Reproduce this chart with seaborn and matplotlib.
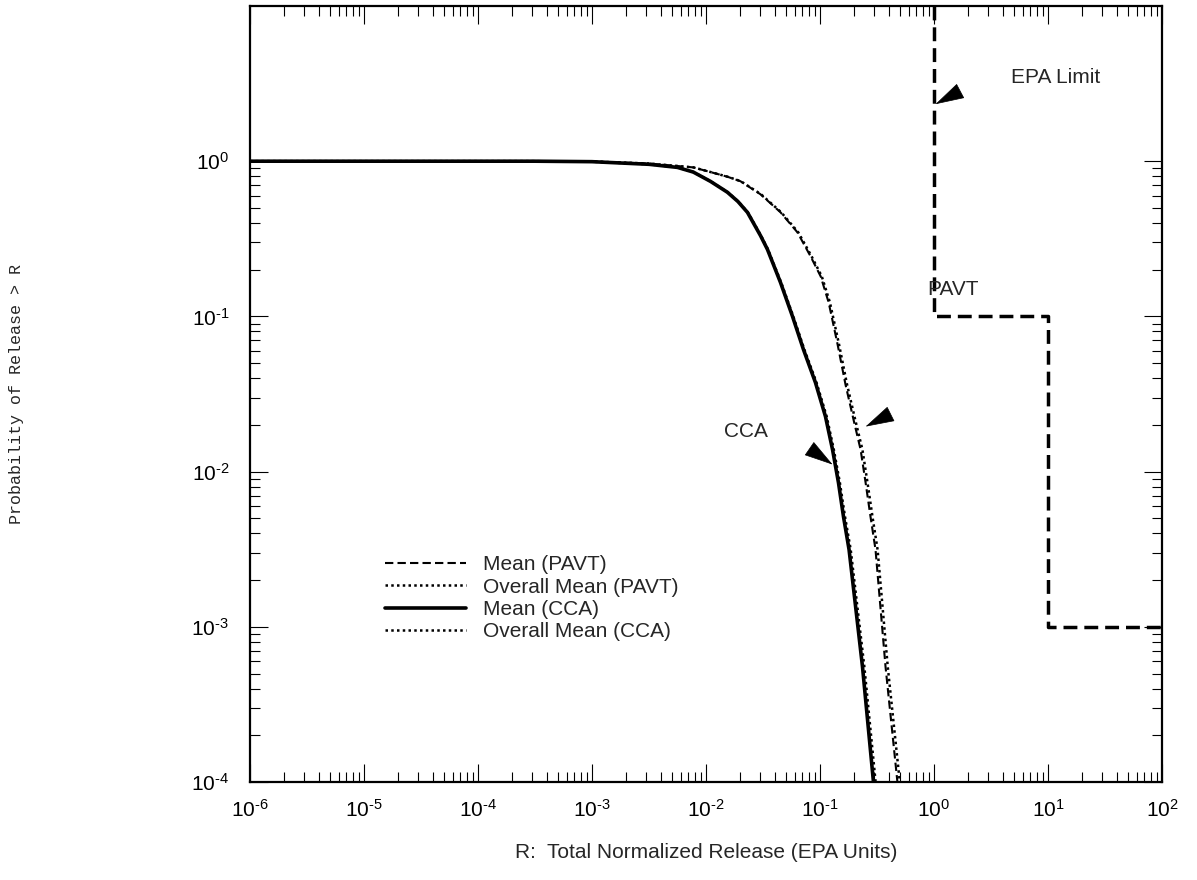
import numpy as np
import pandas as pd
import matplotlib
matplotlib.use('Agg')
import matplotlib.pyplot as plt
import matplotlib.ticker as mticker
import seaborn as sns

# Courbes (probabilite de depasser R)
cca_mean_x = [1e-6, 3.16e-4, 1.0e-3, 3.16e-3, 5.62e-3, 7.74e-3, 0.01096, 0.0154, 0.01905, 0.0231,
              0.0301, 0.0346, 0.0450, 0.0574, 0.0716, 0.0912, 0.1117, 0.1288, 0.1452, 0.1607,
              0.1799, 0.236, 0.295]
cca_mean_y = [1.0, 1.0, 0.993, 0.955, 0.912, 0.851, 0.741, 0.631, 0.550, 0.468,
              0.331, 0.270, 0.1656, 0.100, 0.0612, 0.0375, 0.02265, 0.01387, 0.00849, 0.00513,
              0.00314, 5.52e-4, 9.86e-5]

cca_overall_x = [1e-6, 3.16e-4, 1.0e-3, 3.17e-3, 5.64e-3, 7.78e-3, 0.0110, 0.0155, 0.0192, 0.0233,
                 0.0304, 0.0350, 0.0456, 0.0583, 0.0729, 0.0932, 0.1145, 0.1322, 0.1494, 0.1657,
                 0.1860, 0.2450, 0.3080]
cca_overall_y = cca_mean_y

pavt_mean_x = [1e-6, 3.16e-4, 1.0e-3, 3.16e-3, 7.74e-3, 0.01096, 0.01542, 0.02004, 0.03006, 0.04498,
               0.0634, 0.0826, 0.1014, 0.1191, 0.1426, 0.1675, 0.1968, 0.2270, 0.2512, 0.2773,
               0.3069, 0.3758, 0.4786]
pavt_mean_y = [1.0, 1.0, 0.995, 0.966, 0.912, 0.851, 0.794, 0.743, 0.612, 0.469,
               0.348, 0.244, 0.181, 0.1230, 0.0661, 0.0363, 0.02163, 0.01387, 0.00849, 0.00513,
               0.00314, 5.52e-4, 9.86e-5]

pavt_overall_x = [1e-6, 3.16e-4, 1.0e-3, 3.17e-3, 7.78e-3, 0.0110, 0.0155, 0.0202, 0.0304, 0.0456,
                  0.0645, 0.0843, 0.1037, 0.1222, 0.1468, 0.1728, 0.2035, 0.2355, 0.2610, 0.2885,
                  0.3200, 0.3930, 0.5020]
pavt_overall_y = pavt_mean_y

# Limite EPA (escalier)
epa_x = [1, 1, 10, 10, 100]
epa_y = [10, 0.1, 0.1, 0.001, 0.001]

legend_labels = ["Mean (PAVT)", "Overall Mean (PAVT)", "Mean (CCA)", "Overall Mean (CCA)"]

sns.set_style("ticks")
plt.rcParams['font.family'] = ['Liberation Sans', 'DejaVu Sans']
plt.rcParams['mathtext.fontset'] = 'custom'
plt.rcParams['mathtext.rm'] = 'Liberation Sans'
plt.rcParams['mathtext.it'] = 'Liberation Sans:italic'

fig = plt.figure(figsize=(11.97, 8.80), dpi=100)
ax = fig.add_axes([250/1197, 1 - 782/880, 912/1197, 776/880])
ax.set_xscale('log')
ax.set_yscale('log')

sns.lineplot(x=pavt_mean_x, y=pavt_mean_y, ax=ax, color='black', lw=1.5,
             estimator=None, sort=False, label=legend_labels[0])
ax.lines[-1].set_dashes([4, 2])
sns.lineplot(x=pavt_overall_x, y=pavt_overall_y, ax=ax, color='black', lw=1.8,
             estimator=None, sort=False, label=legend_labels[1])
ax.lines[-1].set_linestyle((0, (1, 1.3)))
sns.lineplot(x=cca_mean_x, y=cca_mean_y, ax=ax, color='black', lw=2.6,
             estimator=None, sort=False, label=legend_labels[2])
sns.lineplot(x=cca_overall_x, y=cca_overall_y, ax=ax, color='black', lw=1.8,
             estimator=None, sort=False, label=legend_labels[3])
ax.lines[-1].set_linestyle((0, (1, 1.3)))
sns.lineplot(x=epa_x, y=epa_y, ax=ax, color='black', lw=2.5,
             estimator=None, sort=False, legend=False)
ax.lines[-1].set_dashes([4, 2])

ax.set_xlim(1e-6, 1e2)
ax.set_ylim(1e-4, 10)


# etiquettes 10^n avec un tiret court comme sur l'original
def puissance(v, pos):
    e = int(round(np.log10(v)))
    return r'$\mathdefault{10^{\text{%d}}}$' % e


ax.yaxis.set_major_locator(mticker.FixedLocator([1e-4, 1e-3, 1e-2, 1e-1, 1e0]))
ax.yaxis.set_major_formatter(mticker.FuncFormatter(puissance))
ax.yaxis.set_minor_locator(mticker.FixedLocator(
    [k * 10.0**n for n in range(-4, 0) for k in range(2, 10)]))
ax.yaxis.set_minor_formatter(mticker.NullFormatter())
ax.xaxis.set_major_locator(mticker.LogLocator(base=10, numticks=20))
ax.xaxis.set_major_formatter(mticker.FuncFormatter(puissance))
ax.xaxis.set_minor_locator(mticker.LogLocator(base=10, subs=np.arange(2, 10), numticks=20))
ax.xaxis.set_minor_formatter(mticker.NullFormatter())

ax.tick_params(which='both', direction='in', top=True, right=True, colors='black', width=0.8)
ax.tick_params(which='major', length=13, labelsize=15)
ax.tick_params(which='minor', length=7)
ax.tick_params(axis='x', which='major', pad=12)
ax.tick_params(axis='y', which='major', pad=15)
for s in ax.spines.values():
    s.set_linewidth(1.6)
    s.set_color('black')

ax.set_xlabel("R:  Total Normalized Release (EPA Units)", fontsize=15, labelpad=16)
ax.set_ylabel("")
fig.text(17/1197, 1 - 394/880, "Probability of Release > R", rotation=90,
         family='Liberation Mono', fontsize=12, ha='center', va='center')

# annotations
ax.text(11.7, 3.48, "EPA Limit", fontsize=15, ha='center', va='center')
ax.text(1.46, 0.149, "PAVT", fontsize=15, ha='center', va='center')
ax.text(0.0222, 0.0181, "CCA", fontsize=15, ha='center', va='center')
arrow = dict(arrowstyle='-|>,head_length=1.6,head_width=0.45', color='black',
             lw=0.5, shrinkA=0, shrinkB=0, mutation_scale=12)
ax.annotate("", xy=(1.03, 2.33), xytext=(17, 9), textcoords='offset points', arrowprops=arrow)
ax.annotate("", xy=(0.251, 0.0195), xytext=(16, 8), textcoords='offset points', arrowprops=arrow)
ax.annotate("", xy=(0.129, 0.0111), xytext=(-16, 11), textcoords='offset points', arrowprops=arrow)

leg = ax.legend(loc='upper left', bbox_to_anchor=(135/912, 0.292), frameon=False,
                fontsize=15, handlelength=3.9, handletextpad=0.8, labelspacing=0.16,
                borderpad=0, borderaxespad=0)

fig.savefig("out.png", dpi=100)
